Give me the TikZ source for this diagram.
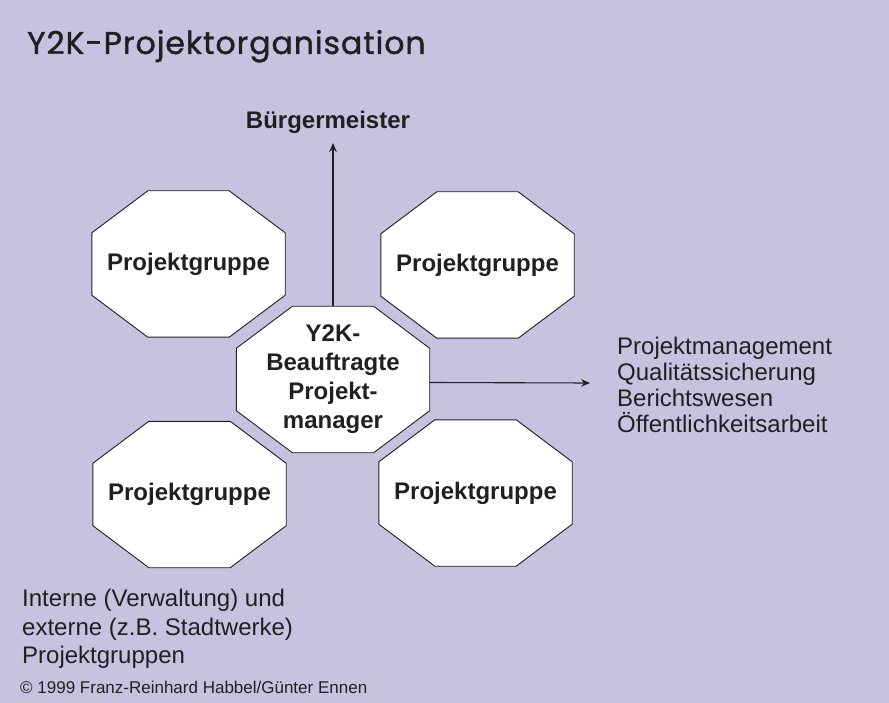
\documentclass[tikz,border=0pt]{standalone}
\usepackage{fontspec}
\setmainfont{Liberation Sans}
\newfontfamily\titlefont{Poppins}[FakeBold=1.2, LetterSpace=3]
\usetikzlibrary{arrows.meta, positioning, backgrounds}
\definecolor{lavender}{RGB}{198,195,225}
\definecolor{ink}{RGB}{35,31,32}

\begin{document}
\begin{tikzpicture}[x=1pt, y=-1pt, node distance=2cm, every node/.style={text=ink},
    grp/.style={minimum width=193pt, minimum height=146pt, inner sep=0pt, align=center, font=\bfseries\fontsize{24}{29}\selectfont},
    octa/.style={draw=ink, fill=white, line width=0.9pt},
    arr/.style={-{Stealth[length=9pt, width=7.5pt, inset=3pt]}, line width=1.1pt, draw=ink},
    plain/.style={inner sep=0pt, align=left, font=\fontsize{24}{26}\selectfont}]
    \useasboundingbox (0,0) rectangle (889,703);
    \node[anchor=base west, inner sep=0pt, font=\titlefont\fontsize{31.5}{35}\selectfont] (title) at (27,54) {Y2K-Projektorganisation};
    % octagons
    \node[grp] (mid) at (333,379.5) {Y2K-\\Beauftragte\\Projekt-\\manager};
    \node[grp] (tl) at (188.5,264) {Projektgruppe};
    \node[grp] (tr) at (477.5,265) {Projektgruppe};
    \node[grp] (bl) at (189.5,494.5) {Projektgruppe};
    \node[grp] (br) at (475.5,493) {Projektgruppe};
    \begin{scope}[on background layer]
        \fill[lavender] (0,0) rectangle (889,703);
        \foreach \g in {tl,tr,mid,bl,br}
            \draw[octa] ([xshift=56pt]\g.north west) -- ([xshift=-56pt]\g.north east) -- ([yshift=-42pt]\g.north east) -- ([yshift=42pt]\g.south east) -- ([xshift=-56pt]\g.south east) -- ([xshift=56pt]\g.south west) -- ([yshift=42pt]\g.south west) -- ([yshift=-42pt]\g.north west) -- cycle;
    \end{scope}
    % reporting lines
    \coordinate (bmtip) at (333,143);
    \node[above=9pt of bmtip, xshift=-5pt, inner sep=0pt, font=\bfseries\fontsize{24}{29}\selectfont] (bm) {Bürgermeister};
    \draw[arr] (mid.north) -- (bmtip);
    \coordinate (mgmt) at (590,383);
    \node[right=27pt of mgmt, yshift=-1.5pt, plain] (tasks) {Projektmanagement\\Qualitätssicherung\\Berichtswesen\\Öffentlichkeitsarbeit};
    \draw[arr] ([yshift=-3pt]mid.east) -- (mgmt);
    % notes
    \node[plain, anchor=north west, font=\fontsize{24}{28.5}\selectfont] (note) at (22,589) {Interne (Verwaltung) und\\externe (z.B. Stadtwerke)\\Projektgruppen};
    \node[anchor=base west, inner sep=0pt, font=\fontsize{17}{20}\selectfont] (copy) at (20,693) {© 1999 Franz-Reinhard Habbel/Günter Ennen};
\end{tikzpicture}
\end{document}
